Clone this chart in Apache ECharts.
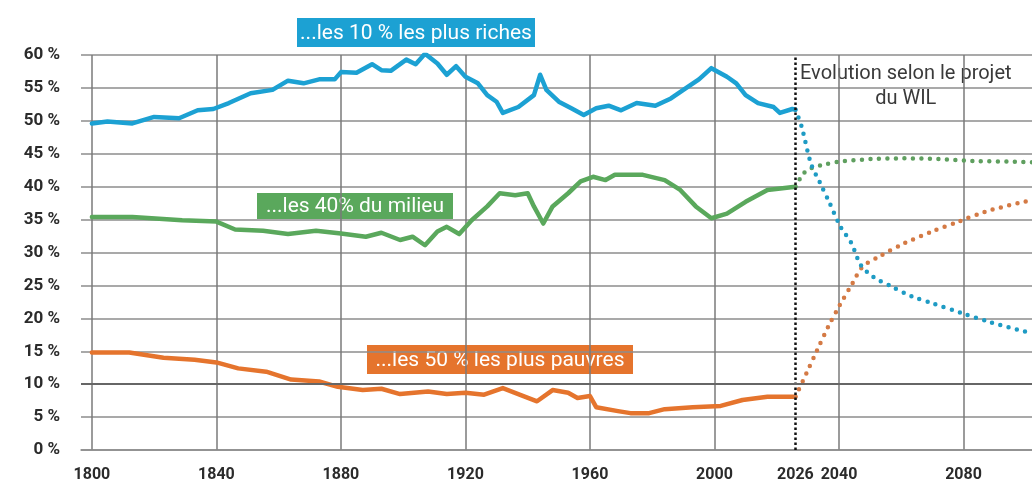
<!DOCTYPE html>
<html>
<head>
<meta charset="utf-8">
<script src="https://cdn.jsdelivr.net/npm/echarts@6/dist/echarts.min.js"></script>
<style>
html,body{margin:0;padding:0;background:#fff;}
#chart{width:1032px;height:484px;}
</style>
</head>
<body>
<div id="chart"></div>
<script>
// ---- data ----
var xLabelValues = [1800, 1840, 1880, 1920, 1960, 2000, 2026, 2040, 2080];
var xGridValues = [1800, 1840, 1880, 1920, 1960, 2000, 2040, 2080];
var projectionStart = 2026;

var richHistYears = [1800,1805,1813,1820,1828,1834,1839,1844,1851,1858,1863,1868,1873,1878,1880,1885,1890,1893,1896,1901,1904,1907,1911,1914,1917,1920,1924,1927,1930,1932,1937,1942,1944,1946,1950,1954,1958,1962,1966,1970,1975,1981,1986,1990,1995,1999,2004,2007,2010,2014,2019,2021,2025,2026];
var richHistVals = [49.6,49.9,49.6,50.6,50.4,51.6,51.8,52.7,54.2,54.7,56.1,55.7,56.3,56.3,57.4,57.3,58.6,57.7,57.6,59.3,58.6,60.2,58.7,57.0,58.3,56.7,55.7,53.9,52.9,51.2,52.1,53.9,57.0,54.7,52.9,51.9,50.9,51.9,52.3,51.6,52.7,52.3,53.4,54.7,56.3,58.0,56.7,55.7,53.9,52.7,52.1,51.2,51.8,51.7];

var midHistYears = [1800,1813,1829,1840,1846,1855,1863,1872,1880,1888,1893,1899,1903,1907,1911,1914,1918,1922,1927,1931,1936,1940,1942,1945,1948,1953,1957,1961,1965,1968,1977,1984,1989,1994,1999,2004,2010,2017,2026];
var midHistVals = [35.4,35.4,34.9,34.7,33.5,33.3,32.8,33.3,32.9,32.4,33.0,31.9,32.4,31.1,33.2,33.9,32.8,34.9,37.0,39.0,38.7,39.0,37.0,34.4,37.0,39.0,40.8,41.5,41.0,41.8,41.8,41.0,39.5,37.0,35.2,35.9,37.7,39.5,40.0];

var poorHistYears = [1800,1812,1823,1833,1840,1847,1856,1864,1873,1879,1887,1893,1899,1908,1914,1920,1926,1932,1938,1943,1948,1953,1956,1960,1962,1969,1973,1979,1984,1993,2002,2009,2017,2026];
var poorHistVals = [14.8,14.8,14.0,13.7,13.3,12.4,11.9,10.7,10.4,9.6,9.1,9.3,8.5,8.9,8.5,8.7,8.4,9.4,8.3,7.4,9.1,8.7,7.9,8.2,6.5,5.9,5.6,5.6,6.2,6.5,6.7,7.6,8.1,8.1];

var richProjYears = [2026,2028,2031,2034,2037,2040.5,2044,2047,2051,2057,2063.5,2070,2079.5,2088,2098,2102];
var richProjVals = [51.7,49.1,43.5,40.5,37.5,33.9,31.4,28.1,26.3,24.8,23.3,22.3,20.8,19.5,18.2,17.8];

var midProjYears = [2026,2028.6,2031,2035.6,2040,2050.7,2061,2072,2083,2096.5,2102];
var midProjVals = [40.0,42.0,42.8,43.4,43.8,44.2,44.3,44.2,43.9,43.8,43.7];

var poorProjYears = [2026,2029.5,2033,2036.5,2040,2044.3,2047.5,2053,2061,2070,2078.5,2087,2098.5,2102];
var poorProjVals = [8.1,11.6,15.2,18.7,21.8,25.3,27.8,29.4,31.4,33.2,34.7,36.2,37.6,37.9];

var labelRich = '...les 10 % les plus riches';
var labelMid = '...les 40% du milieu';
var labelPoor = '...les 50 % les plus pauvres';
var noteLine1 = 'Evolution selon le projet';
var noteLine2 = 'du WIL';

// ---- build ----
function pairs(xs, ys) { return xs.map(function (x, i) { return [x, ys[i]]; }); }

var BLUE = '#1ca1d3', GREEN = '#5aa85c', ORANGE = '#e5742d';
var BLUE_P = '#1e9bc4', GREEN_P = '#5f9f5f', ORANGE_P = '#d47a45';
var AXIS_FONT = "Roboto, 'Noto Sans', sans-serif";

function histSeries(name, data, color) {
  return { name: name, type: 'line', data: data, showSymbol: false, symbol: 'none',
    lineStyle: { color: color, width: 4.5, join: 'round', cap: 'round' }, z: 3 };
}
function projSeries(name, data, color) {
  return { name: name, type: 'line', data: data, showSymbol: false, symbol: 'none', smooth: 0.3,
    lineStyle: { color: color, width: 4.5, type: [0, 8.5], cap: 'round' }, z: 4 };
}

function labelBox(x, y, w, h, color, text, size) {
  return { type: 'group', left: x, top: y, z: 20, children: [
    { type: 'rect', shape: { x: 0, y: 0, width: w, height: h }, style: { fill: color } },
    { type: 'text', x: w / 2, y: h / 2 + 1, style: { text: text, fill: '#fff', align: 'center', verticalAlign: 'middle',
      font: 'normal ' + size + 'px ' + AXIS_FONT } }
  ]};
}

var chart = echarts.init(document.getElementById('chart'), null, { renderer: 'canvas' });
var poorHist = histSeries('poorHist', pairs(poorHistYears, poorHistVals), ORANGE);
poorHist.markLine = {
  silent: true, symbol: ['none', 'none'], label: { show: false }, animation: false,
  data: [
    { xAxis: projectionStart, lineStyle: { color: '#111', width: 2.5, type: 'dotted' } },
    { yAxis: 10, lineStyle: { color: '#666', width: 2, type: 'solid' } }
  ]
};

chart.setOption({
  animation: false,
  grid: { left: 81, right: 0, top: 55, bottom: 34 },
  xAxis: {
    type: 'value', min: 1796.5, max: 2102,
    axisLine: { show: true, lineStyle: { color: '#8c8c8c', width: 1.5 } },
    axisTick: { show: false, customValues: xGridValues },
    splitLine: { show: true, lineStyle: { color: '#7a7a7a', width: 1.5 } },
    axisLabel: { customValues: xLabelValues, margin: 17, color: '#2b2b2b', fontSize: 16,
      fontFamily: AXIS_FONT, fontWeight: 'bold', formatter: function (v) { return String(v); } }
  },
  yAxis: {
    type: 'value', min: 0, max: 60, interval: 5,
    axisLine: { show: false }, axisTick: { show: false },
    splitLine: { show: true, lineStyle: { color: '#8c8c8c', width: 1.5 } },
    axisLabel: { margin: 21, color: '#2b2b2b', fontSize: 17, fontFamily: AXIS_FONT, fontWeight: 'bold',
      formatter: '{value} %' }
  },
  series: [
    poorHist,
    histSeries('midHist', pairs(midHistYears, midHistVals), GREEN),
    histSeries('richHist', pairs(richHistYears, richHistVals), BLUE),
    projSeries('midProj', pairs(midProjYears, midProjVals), GREEN_P),
    projSeries('poorProj', pairs(poorProjYears, poorProjVals), ORANGE_P),
    projSeries('richProj', pairs(richProjYears, richProjVals), BLUE_P)
  ],
  graphic: [
    labelBox(297, 18, 238, 29, BLUE, labelRich, 21),
    labelBox(257, 193, 196, 26, GREEN, labelMid, 21),
    labelBox(367, 345, 266, 29, ORANGE, labelPoor, 21),
    { type: 'group', left: 800, top: 64, z: 20, children: [
      { type: 'text', x: 109, y: 12, style: { text: noteLine1, fill: '#3a3a3a', align: 'center', verticalAlign: 'middle',
        font: "normal 20px Roboto, 'Liberation Sans', sans-serif" } },
      { type: 'text', x: 109, y: 37, style: { text: noteLine2, fill: '#3a3a3a', align: 'center', verticalAlign: 'middle',
        font: "normal 20px Roboto, 'Liberation Sans', sans-serif" } }
    ]}
  ]
});
</script>
</body>
</html>
